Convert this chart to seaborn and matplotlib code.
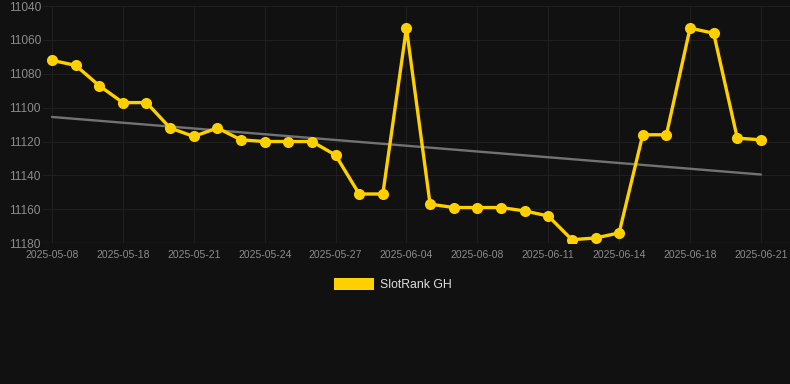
import numpy as np
import pandas as pd
import matplotlib
matplotlib.use('Agg')
import matplotlib.pyplot as plt
import seaborn as sns
from matplotlib.patches import Patch

# --- data ---
dates = ['2025-05-08', '2025-05-10', '2025-05-13', '2025-05-18', '2025-05-19', '2025-05-20',
         '2025-05-21', '2025-05-22', '2025-05-23', '2025-05-24', '2025-05-25', '2025-05-26',
         '2025-05-27', '2025-05-29', '2025-06-01', '2025-06-04', '2025-06-05', '2025-06-06',
         '2025-06-08', '2025-06-09', '2025-06-10', '2025-06-11', '2025-06-12', '2025-06-13',
         '2025-06-14', '2025-06-15', '2025-06-16', '2025-06-18', '2025-06-19', '2025-06-20',
         '2025-06-21']
ranks = [11072, 11075, 11087, 11097, 11097, 11112, 11117, 11112, 11119, 11120, 11120, 11120,
         11128, 11151, 11151, 11053, 11157, 11159, 11159, 11159, 11161, 11164, 11178, 11177,
         11174, 11116, 11116, 11053, 11056, 11118, 11119]
y_ticks = [11040, 11060, 11080, 11100, 11120, 11140, 11160, 11180]
series_name = 'SlotRank GH'

df = pd.DataFrame({'pos': np.arange(len(dates)), 'date': dates, 'rank': ranks})

BG = '#111111'
GOLD = '#FFD000'

sns.set_theme(style='dark')
plt.rcParams['font.family'] = ['Liberation Sans', 'DejaVu Sans']

fig = plt.figure(figsize=(7.9, 3.84), dpi=100, facecolor=BG)
ax = fig.add_axes([0.0544, 0.367, 0.9456, 0.617])
ax.set_facecolor(BG)

# trend line (linear fit over the category index)
sns.regplot(data=df, x='pos', y='rank', scatter=False, ci=None, ax=ax,
            line_kws={'color': '#727272', 'linewidth': 1.7})

sns.lineplot(data=df, x='pos', y='rank', ax=ax, color=GOLD, linewidth=2.4,
             marker='o', markersize=8, markeredgewidth=0, zorder=3)

ax.set_ylim(11180, 11040)
ax.set_xlim(-0.38, 31.23)
ax.set_yticks(y_ticks)
tick_pos = df['pos'][::3]
ax.set_xticks(tick_pos)
ax.set_xticklabels(df['date'][::3])

ax.grid(True, color='#1f1f1f', linewidth=0.8)
ax.axhline(11180, color='#2a2a2a', linewidth=1, zorder=1)
for s in ax.spines.values():
    s.set_visible(False)
ax.tick_params(axis='both', length=0, colors='#8c8c8c')
ax.tick_params(axis='y', labelsize=8.6, pad=1.5)
ax.tick_params(axis='x', labelsize=7.5, pad=5)
ax.set_xlabel('')
ax.set_ylabel('')

fig.legend(handles=[Patch(facecolor=GOLD, edgecolor='none', label=series_name)],
           loc='center', bbox_to_anchor=(0.497, 0.258), frameon=False,
           handlelength=3.3, handleheight=1.1, handletextpad=0.5,
           fontsize=8.8, labelcolor='#dddddd')

fig.savefig('out.png', dpi=100, facecolor=BG)
